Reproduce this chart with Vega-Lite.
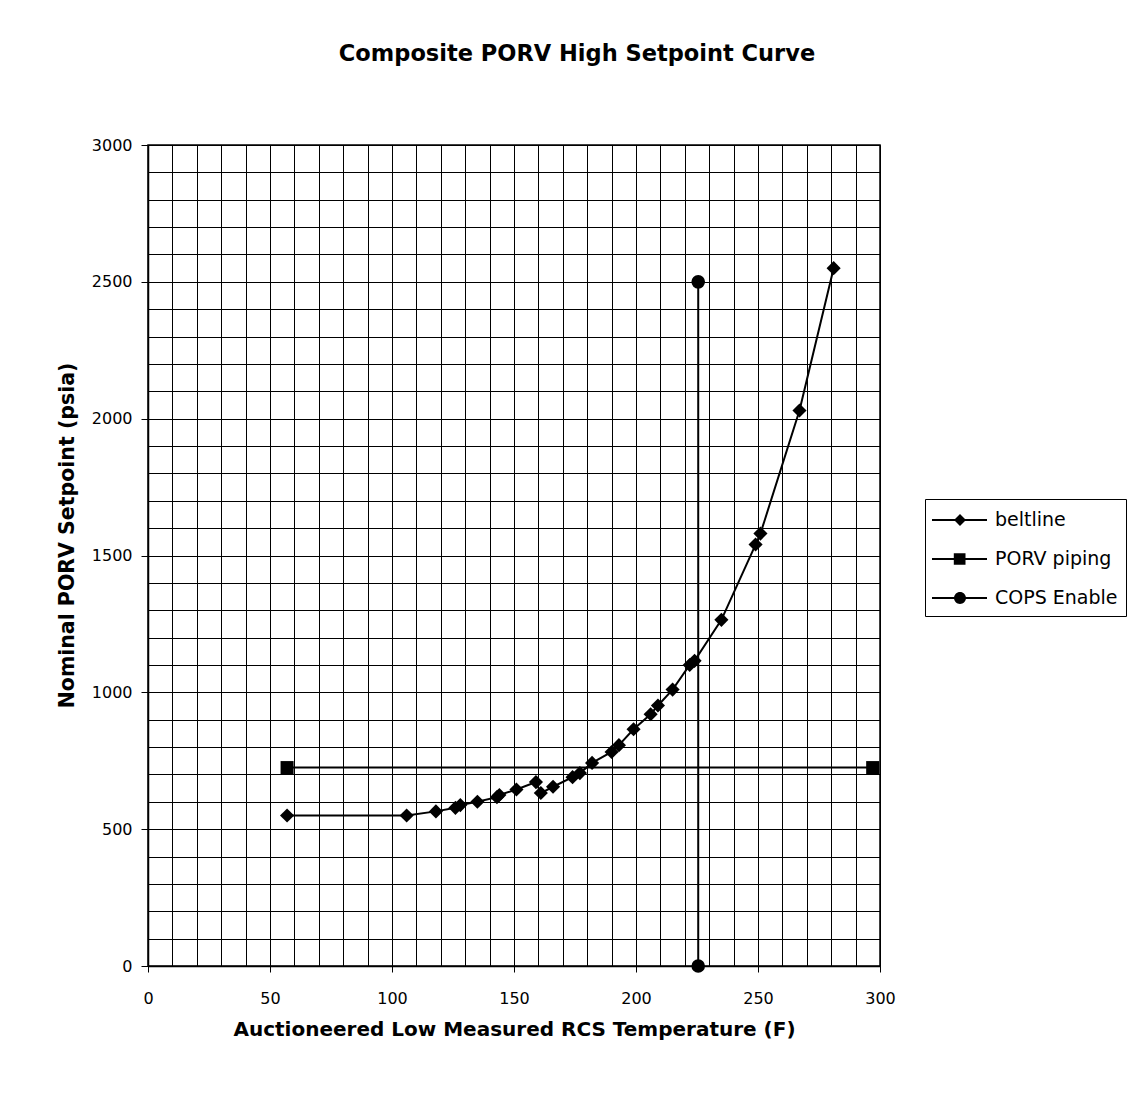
{
  "$schema": "https://vega.github.io/schema/vega-lite/v6.json",
  "autosize": "none",
  "padding": {"left": 148, "top": 145, "right": 261, "bottom": 128},
  "width": 732,
  "height": 821,
  "background": "white",
  "config": {
    "view": {"stroke": "black", "strokeWidth": 1.5},
    "font": "DejaVu Sans"
  },
  "title": {
    "text": "Composite PORV High Setpoint Curve",
    "font": "DejaVu Sans",
    "fontSize": 22.5,
    "fontWeight": "bold",
    "color": "black",
    "anchor": "middle",
    "frame": "group",
    "dx": 63,
    "offset": 72
  },
  "data": {
    "values": [
      {"series": "beltline", "x": 57, "y": 550},
      {"series": "beltline", "x": 106, "y": 550},
      {"series": "beltline", "x": 118, "y": 565},
      {"series": "beltline", "x": 126, "y": 578},
      {"series": "beltline", "x": 128, "y": 588},
      {"series": "beltline", "x": 135, "y": 600},
      {"series": "beltline", "x": 143, "y": 617},
      {"series": "beltline", "x": 144, "y": 625},
      {"series": "beltline", "x": 151, "y": 645},
      {"series": "beltline", "x": 159, "y": 672},
      {"series": "beltline", "x": 161, "y": 632},
      {"series": "beltline", "x": 166, "y": 655},
      {"series": "beltline", "x": 174, "y": 690},
      {"series": "beltline", "x": 177, "y": 705},
      {"series": "beltline", "x": 182, "y": 742},
      {"series": "beltline", "x": 190, "y": 782},
      {"series": "beltline", "x": 193, "y": 807},
      {"series": "beltline", "x": 199, "y": 865},
      {"series": "beltline", "x": 206, "y": 920},
      {"series": "beltline", "x": 209, "y": 952},
      {"series": "beltline", "x": 215, "y": 1010},
      {"series": "beltline", "x": 222, "y": 1100},
      {"series": "beltline", "x": 224, "y": 1115},
      {"series": "beltline", "x": 235, "y": 1265},
      {"series": "beltline", "x": 249, "y": 1540},
      {"series": "beltline", "x": 251, "y": 1580},
      {"series": "beltline", "x": 267, "y": 2030},
      {"series": "beltline", "x": 281, "y": 2550},
      {"series": "PORV piping", "x": 57, "y": 725},
      {"series": "PORV piping", "x": 297, "y": 725},
      {"series": "COPS Enable", "x": 225.5, "y": 2500},
      {"series": "COPS Enable", "x": 225.5, "y": 0}
    ]
  },
  "encoding": {
    "x": {
      "field": "x", "type": "quantitative",
      "scale": {"domain": [0, 300], "nice": false, "zero": false},
      "axis": {
        "title": "Auctioneered Low Measured RCS Temperature (F)",
        "titleFont": "DejaVu Sans", "titleFontSize": 20, "titleFontWeight": "bold", "titleColor": "black",
        "titlePadding": 13,
        "values": [0,10,20,30,40,50,60,70,80,90,100,110,120,130,140,150,160,170,180,190,200,210,220,230,240,250,260,270,280,290,300],
        "labelExpr": "datum.value % 50 === 0 ? datum.label : ''",
        "labelFont": "DejaVu Sans", "labelFontSize": 16, "labelColor": "black",
        "labelPadding": 18, "labelFlush": false, "labelOverlap": false,
        "tickSize": 6,
        "tickColor": {"condition": {"test": "datum.value % 50 === 0", "value": "black"}, "value": "transparent"},
        "domainColor": "black", "domainWidth": 1.5,
        "grid": true, "gridColor": "black", "gridOpacity": 1, "gridWidth": 1
      }
    },
    "y": {
      "field": "y", "type": "quantitative",
      "scale": {"domain": [0, 3000], "nice": false},
      "axis": {
        "title": "Nominal PORV Setpoint (psia)",
        "titleFont": "DejaVu Sans", "titleFontSize": 20.5, "titleFontWeight": "bold", "titleColor": "black",
        "titlePadding": 14,
        "titleY": 390,
        "values": [0,100,200,300,400,500,600,700,800,900,1000,1100,1200,1300,1400,1500,1600,1700,1800,1900,2000,2100,2200,2300,2400,2500,2600,2700,2800,2900,3000],
        "labelExpr": "datum.value % 500 === 0 ? datum.label : ''",
        "format": "d",
        "labelFont": "DejaVu Sans", "labelFontSize": 16, "labelColor": "black",
        "labelPadding": 9, "labelFlush": false, "labelOverlap": false,
        "tickSize": 7,
        "tickColor": {"condition": {"test": "datum.value % 500 === 0", "value": "black"}, "value": "transparent"},
        "domainColor": "black", "domainWidth": 1.5,
        "grid": true, "gridColor": "black", "gridOpacity": 1, "gridWidth": 1
      }
    }
  },
  "layer": [
    {
      "mark": {"type": "line", "color": "black", "strokeWidth": 2},
      "encoding": {"detail": {"field": "series", "type": "nominal"}}
    },
    {
      "transform": [{"filter": "datum.series == 'beltline'"}],
      "mark": {"type": "point", "shape": "diamond", "filled": true, "color": "black", "opacity": 1, "size": 200}
    },
    {
      "transform": [{"filter": "datum.series == 'PORV piping'"}],
      "mark": {"type": "point", "shape": "square", "filled": true, "color": "black", "opacity": 1, "size": 170}
    },
    {
      "transform": [{"filter": "datum.series == 'COPS Enable'"}],
      "mark": {"type": "point", "shape": "circle", "filled": true, "color": "black", "opacity": 1, "size": 185}
    },
    {
      "transform": [{"filter": "datum.series == 'none'"}],
      "mark": {"type": "point", "filled": true, "color": "black", "opacity": 1},
      "encoding": {
        "shape": {
          "field": "series", "type": "nominal",
          "scale": {
            "domain": ["beltline", "PORV piping", "COPS Enable"],
            "range": [
              "M-1.077,-0.07L3.154,-0.07L3.154,0.07L-1.077,0.07ZM1.077,-0.46L1.537,0L1.077,0.46L0.617,0Z",
              "M-1.077,-0.07L3.154,-0.07L3.154,0.07L-1.077,0.07ZM0.6,-0.45L1.5,-0.45L1.5,0.45L0.6,0.45Z",
              "M-1.077,-0.07L3.154,-0.07L3.154,0.07L-1.077,0.07ZM1.537,0A0.46,0.46,0,1,1,0.617,0A0.46,0.46,0,1,1,1.537,0Z"
            ]
          },
          "legend": {
            "title": null,
            "orient": "none",
            "legendX": 777,
            "legendY": 354,
            "direction": "vertical",
            "strokeColor": "black",
            "padding": 8,
            "symbolSize": 676,
            "symbolFillColor": "black",
            "symbolStrokeColor": "black",
            "symbolStrokeWidth": 0,
            "labelFont": "DejaVu Sans",
            "labelFontSize": 19,
            "labelColor": "black",
            "labelOffset": 36,
            "rowPadding": 16,
            "encode": {
              "symbols": {
                "fill": {"value": "black"},
                "opacity": {"value": 1}
              }
            }
          }
        }
      }
    }
  ]
}
